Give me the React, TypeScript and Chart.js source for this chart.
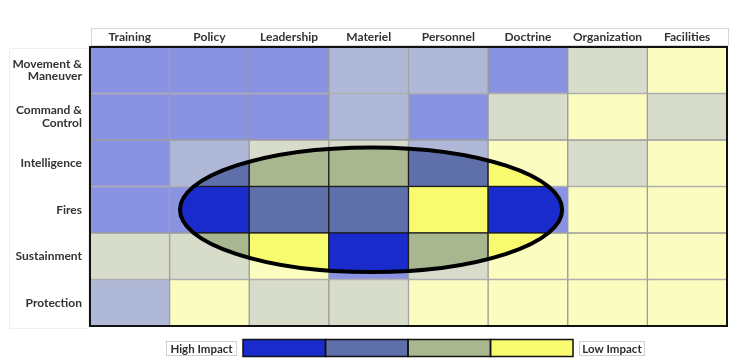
import React, { useEffect, useRef } from "react";
import { Chart, registerables } from "chart.js";

Chart.register(...registerables);

// ---- data ----
const columns = ["Training", "Policy", "Leadership", "Materiel", "Personnel", "Doctrine", "Organization", "Facilities"];
const rowLabels: (string | string[])[] = [
  ["Movement &", "Maneuver"],
  ["Command &", "Control"],
  "Intelligence",
  "Fires",
  "Sustainment",
  "Protection",
];
// impact level: 0 = high, 1 = medium-high, 2 = medium-low, 3 = low
const movementManeuver = [0, 0, 0, 1, 1, 0, 2, 3];
const commandControl = [0, 0, 0, 1, 0, 2, 3, 2];
const intelligence = [0, 1, 2, 2, 1, 3, 2, 3];
const fires = [0, 0, 1, 1, 3, 0, 3, 3];
const sustainment = [2, 2, 3, 0, 2, 3, 3, 3];
const protection = [1, 3, 2, 2, 3, 3, 3, 3];
const levelRows = [movementManeuver, commandControl, intelligence, fires, sustainment, protection];

const legendLabels = ["High Impact", "Low Impact"];
const fullColors = ["#1a2bcc", "#5f6fa9", "#a8b78f", "#f7fb6d"];
const fadedColors = ["#8a93e2", "#b0b8d8", "#d8dcca", "#fbfdc0"];

// highlighted ellipse, in column / row units measured from the grid's top-left corner
const ellipseCenterCol = 3.53;
const ellipseCenterRow = 3.5;
const ellipseRadiusCols = 2.4;
const ellipseRadiusRows = 1.34;

const FONT = "Lato, 'Open Sans', sans-serif";

export default function App() {
  const ref = useRef<HTMLCanvasElement | null>(null);

  useEffect(() => {
    if (!ref.current) return;

    const overlay = {
      id: "overlay",
      beforeDraw(chart: any) {
        const { ctx, chartArea } = chart;
        ctx.save();
        // header box
        ctx.strokeStyle = "#d6d6d6";
        ctx.lineWidth = 1;
        ctx.strokeRect(chartArea.left + 1.5, 28.5, chartArea.right - chartArea.left, 17);
        // row-label box
        ctx.strokeStyle = "#f0f0f0";
        ctx.strokeRect(9.5, chartArea.top + 1.5, chartArea.left - 11, chartArea.bottom - chartArea.top + 1);
        ctx.restore();
      },
      afterDatasetsDraw(chart: any) {
        const { ctx, chartArea } = chart;
        const xs = chart.scales.x;
        const ys = chart.scales.y;
        const cx = xs.getPixelForValue(ellipseCenterCol - 0.5);
        const cy = ys.getPixelForValue(ellipseCenterRow);
        const colW = (xs.right - xs.left) / columns.length;
        const rowH = Math.abs(ys.getPixelForValue(1) - ys.getPixelForValue(0));
        const rx = ellipseRadiusCols * colW;
        const ry = ellipseRadiusRows * rowH;

        ctx.save();
        ctx.beginPath();
        ctx.ellipse(cx, cy, rx, ry, 0, 0, Math.PI * 2);
        ctx.clip();
        chart.data.datasets.forEach((ds: any, di: number) => {
          const meta = chart.getDatasetMeta(di);
          meta.data.forEach((el: any, i: number) => {
            const left = el.x - el.width / 2;
            const top = Math.min(el.y, el.base);
            const h = Math.abs(el.base - el.y);
            ctx.fillStyle = fullColors[levelRows[di][i]];
            ctx.fillRect(left, top, el.width, h);
            ctx.strokeStyle = "#1b1b1b";
            ctx.lineWidth = 1.2;
            ctx.strokeRect(left, top, el.width, h);
          });
        });
        ctx.restore();

        ctx.save();
        ctx.beginPath();
        ctx.ellipse(cx, cy, rx, ry, 0, 0, Math.PI * 2);
        ctx.strokeStyle = "#000";
        ctx.lineWidth = 4;
        ctx.stroke();
        // outer border
        ctx.lineWidth = 2;
        ctx.strokeStyle = "#111";
        ctx.strokeRect(chartArea.left, chartArea.top, chartArea.right - chartArea.left, chartArea.bottom - chartArea.top);
        ctx.restore();
      },
      afterDraw(chart: any) {
        const { ctx } = chart;
        ctx.save();
        // legend bar
        const barLeft = 243;
        const barTop = 339.5;
        const segW = 82.5;
        const barH = 17;
        fullColors.forEach((c, i) => {
          ctx.fillStyle = c;
          ctx.fillRect(barLeft + i * segW, barTop, segW, barH);
        });
        ctx.strokeStyle = "#111";
        ctx.lineWidth = 1.5;
        fullColors.forEach((c, i) => {
          ctx.strokeRect(barLeft + i * segW, barTop, segW, barH);
        });
        // legend labels
        ctx.font = `bold 11.5px ${FONT}`;
        ctx.textBaseline = "middle";
        ctx.textAlign = "center";
        const boxes = [
          { x: 166.5, w: 70, label: legendLabels[0] },
          { x: 579.5, w: 65, label: legendLabels[1] },
        ];
        boxes.forEach((b) => {
          ctx.fillStyle = "#fff";
          ctx.fillRect(b.x, 341.5, b.w, 14);
          ctx.strokeStyle = "#cfcfcf";
          ctx.lineWidth = 1;
          ctx.strokeRect(b.x, 341.5, b.w, 14);
          ctx.fillStyle = "#2e2e2e";
          ctx.fillText(b.label, b.x + b.w / 2, 349);
        });
        ctx.restore();
      },
    };

    const chart = new Chart(ref.current, {
      type: "bar",
      data: {
        labels: columns,
        datasets: levelRows.map((levels, r) => ({
          label: Array.isArray(rowLabels[r]) ? (rowLabels[r] as string[]).join(" ") : (rowLabels[r] as string),
          data: levels.map(() => 1),
          backgroundColor: levels.map((l) => fadedColors[l]),
          borderColor: "#9c9c9c",
          borderWidth: 1,
          borderSkipped: false,
          barPercentage: 1,
          categoryPercentage: 1,
        })),
      },
      options: {
        animation: false,
        responsive: true,
        maintainAspectRatio: false,
        layout: { padding: { left: 0, top: 0, right: 24, bottom: 38 } },
        plugins: { legend: { display: false }, tooltip: { enabled: false } },
        scales: {
          x: {
            type: "category",
            position: "top",
            stacked: true,
            grid: { display: false, drawTicks: false },
            border: { display: false },
            ticks: {
              color: "#333",
              padding: 3,
              font: { family: FONT, weight: "bold", size: 12 },
              maxRotation: 0,
              autoSkip: false,
            },
            afterFit: (s: any) => {
              s.height = 47;
            },
          },
          y: {
            type: "linear",
            stacked: true,
            reverse: true,
            min: 0,
            max: 6,
            grid: { display: false, drawTicks: false },
            border: { display: false },
            ticks: {
              stepSize: 0.5,
              autoSkip: false,
              padding: 8,
              color: "#333",
              font: { family: FONT, weight: "bold", size: 12, lineHeight: 1.05 },
              callback: (v: any) => {
                const i = Number(v) - 0.5;
                return Number.isInteger(i) && i >= 0 && i < rowLabels.length ? rowLabels[i] : "";
              },
            },
            afterFit: (s: any) => {
              s.width = 90;
            },
          },
        },
      },
      plugins: [overlay],
    } as any);

    return () => chart.destroy();
  }, []);

  return (
    <div style={{ position: "fixed", left: 0, top: 0, width: 751, height: 364, background: "#fff" }}>
      <canvas ref={ref} />
    </div>
  );
}
